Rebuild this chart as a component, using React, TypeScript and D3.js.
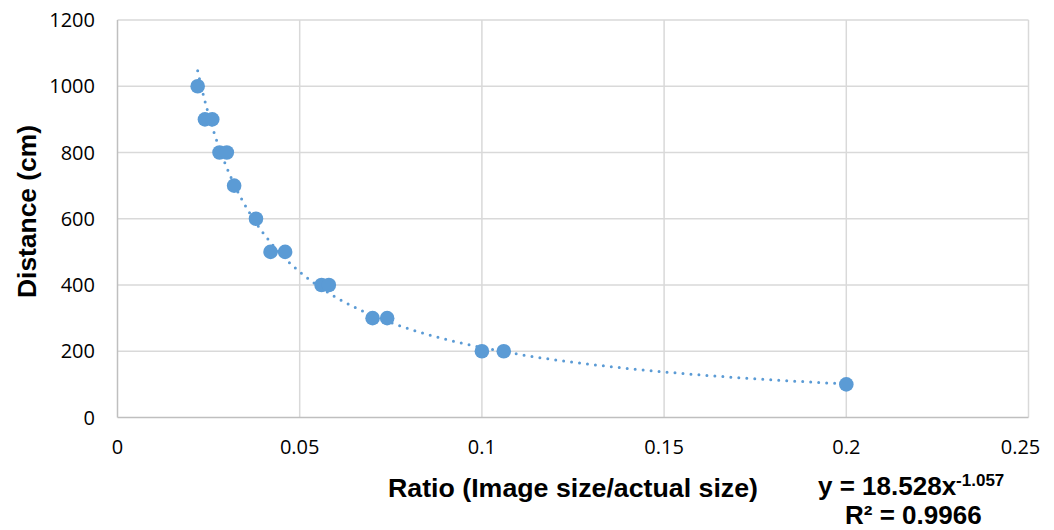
import React from "react";
import * as d3 from "d3";

// measured points
const ratio = [0.022, 0.024, 0.026, 0.028, 0.03, 0.032, 0.038, 0.042, 0.046, 0.056, 0.058, 0.07, 0.074, 0.1, 0.106, 0.2];
const distance = [1000, 900, 900, 800, 800, 700, 600, 500, 500, 400, 400, 300, 300, 200, 200, 100];

const xTicks = [0, 0.05, 0.1, 0.15, 0.2, 0.25];
const yTicks = [0, 200, 400, 600, 800, 1000, 1200];

// power trendline y = a * x^b
const trendA = 18.528;
const trendB = -1.057;
const rSquared = "0.9966";

const W = 1054;
const H = 530;
const blue = "#5b9bd5";

const App = () => {
  const x = d3.scaleLinear().domain([0, 0.25]).range([117.5, 1028.5]);
  const y = d3.scaleLinear().domain([0, 1200]).range([417.5, 20]);

  const xMin = d3.min(ratio) as number;
  const xMax = d3.max(ratio) as number;
  const trendPts = d3.range(0, 201).map((i) => {
    const xv = xMin + ((xMax - xMin) * i) / 200;
    return [xv, trendA * Math.pow(xv, trendB)] as [number, number];
  });
  const line = d3
    .line<[number, number]>()
    .x((d) => x(d[0]))
    .y((d) => y(d[1]))
    .curve(d3.curveMonotoneX);

  const tickFont = "'Open Sans', 'Liberation Sans', sans-serif";
  const boldFont = "'Liberation Sans', Arial, sans-serif";

  return (
    <svg width={W} height={H} style={{ position: "absolute", left: 0, top: 0 }}>
      <rect width={W} height={H} fill="#fff" />
      {/* gridlines */}
      {yTicks.slice(1).map((t) => (
        <line key={"gy" + t} x1={x(0)} x2={x(0.25)} y1={y(t)} y2={y(t)} stroke="#d9d9d9" strokeWidth={1.5} />
      ))}
      {xTicks.slice(1).map((t) => (
        <line key={"gx" + t} x1={x(t)} x2={x(t)} y1={y(0)} y2={y(1200)} stroke="#d9d9d9" strokeWidth={1.5} />
      ))}
      {/* axes */}
      <line x1={x(0)} x2={x(0.25)} y1={y(0)} y2={y(0)} stroke="#bfbfbf" strokeWidth={1.5} />
      <line x1={x(0)} x2={x(0)} y1={y(0)} y2={y(1200)} stroke="#bfbfbf" strokeWidth={1.5} />

      {/* tick labels */}
      {yTicks.map((t) => (
        <text key={"ty" + t} x={95} y={y(t)} dy="0.36em" textAnchor="end" fontSize={20} fontFamily={tickFont} fill="#000">
          {t}
        </text>
      ))}
      {xTicks.map((t) => (
        <text key={"tx" + t} x={t === 0.25 ? x(t) - 8 : x(t)} y={454} textAnchor="middle" fontSize={20} fontFamily={tickFont} fill="#000">
          {t}
        </text>
      ))}

      {/* trendline */}
      <path d={line(trendPts) || ""} fill="none" stroke={blue} strokeWidth={3} strokeLinecap="round" strokeDasharray="0 8" />

      {/* markers */}
      {ratio.map((r, i) => (
        <circle key={i} cx={x(r)} cy={y(distance[i])} r={7.3} fill={blue} />
      ))}

      {/* axis titles */}
      <text
        x={388}
        y={497}
        fontSize={26}
        fontWeight="bold"
        fontFamily={boldFont}
        fill="#000"
        textLength={370}
        lengthAdjust="spacingAndGlyphs"
      >
        Ratio (Image size/actual size)
      </text>
      <text
        transform="translate(36,298) rotate(-90)"
        fontSize={26}
        fontWeight="bold"
        fontFamily={boldFont}
        fill="#000"
        textLength={173}
        lengthAdjust="spacingAndGlyphs"
      >
        Distance (cm)
      </text>

      {/* trendline equation */}
      <text x={818} y={495} fontSize={26} fontWeight="bold" fontFamily={boldFont} fill="#000">
        y = {trendA}x<tspan dy={-9} fontSize={17}>{trendB}</tspan>
      </text>
      <text x={845} y={524} fontSize={26} fontWeight="bold" fontFamily={boldFont} fill="#000">
        R² = {rSquared}
      </text>
    </svg>
  );
};

export default App;
